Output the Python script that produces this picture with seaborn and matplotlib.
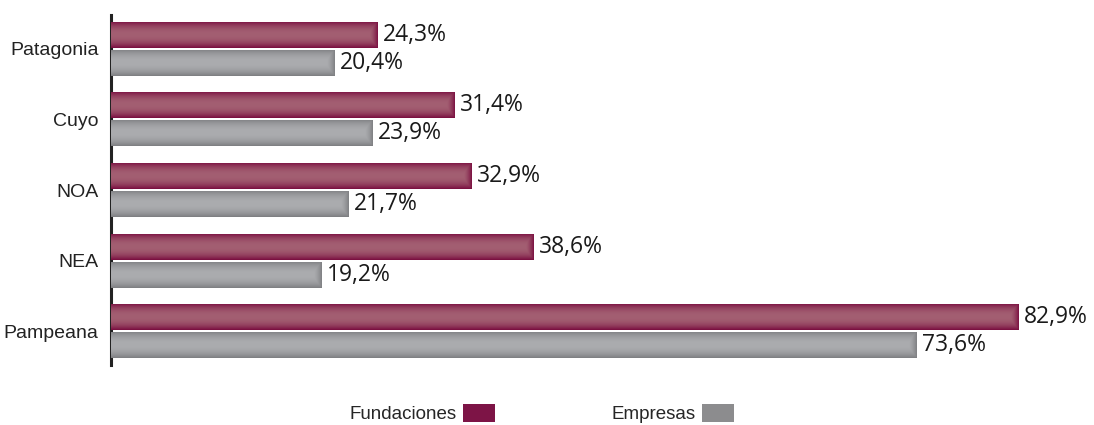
import numpy as np
import pandas as pd
import seaborn as sns
import matplotlib.pyplot as plt
from matplotlib.colors import to_rgb
from matplotlib.patches import Patch

regiones = ["Patagonia", "Cuyo", "NOA", "NEA", "Pampeana"]
fundaciones = [24.3, 31.4, 32.9, 38.6, 82.9]
empresas = [20.4, 23.9, 21.7, 19.2, 73.6]
series = ["Fundaciones", "Empresas"]

# colores: borde oscuro / centro claro
colores = {"Fundaciones": ("#7a0f40", "#a35f72"), "Empresas": ("#7e7f82", "#abacaf")}
legend_colors = {"Fundaciones": "#7d1446", "Empresas": "#8c8c8e"}

df = pd.DataFrame({
    "region": regiones * 2,
    "valor": fundaciones + empresas,
    "serie": [series[0]] * 5 + [series[1]] * 5,
})

sns.set_style("white")
plt.rcParams["font.family"] = ["Liberation Sans", "DejaVu Sans"]

fig = plt.figure(figsize=(10.94, 4.25), dpi=100)
px_per_unit = 10.95
ax_left, ax_right = 111, 1090
ax = fig.add_axes([ax_left / 1094, 60 / 425, (ax_right - ax_left) / 1094, 350 / 425])

sns.barplot(data=df, y="region", x="valor", hue="serie", order=regiones,
            hue_order=series, orient="h", width=0.794, gap=0.07,
            palette=[legend_colors[s] for s in series], linewidth=0,
            legend=False, ax=ax)

# gradiente sobre cada barra
for cont, s in zip(ax.containers, series):
    dark = np.array(to_rgb(colores[s][0]))
    light = np.array(to_rgb(colores[s][1]))
    for p in cont:
        x0, y0 = p.get_x(), p.get_y()
        w, h = p.get_width(), p.get_height()
        n_u = max(int(w * px_per_unit), 2)
        u = np.linspace(0, 1, n_u)
        v = np.linspace(0, 1, 40)
        dv = np.abs(2 * v - 1) ** 2.2
        dist_right = (1 - u) * w * px_per_unit
        du = np.clip(1 - dist_right / 8, 0, 1) ** 1.5
        d = np.maximum(dv[:, None], du[None, :] * 0.9)
        img = light[None, None, :] * (1 - d[..., None]) + dark[None, None, :] * d[..., None]
        im = ax.imshow(img, extent=[x0, x0 + w, y0 + h, y0], aspect="auto",
                       interpolation="bilinear", zorder=3)
        im.set_clip_path(p)

    labels = [f"{b.get_width():.1f}%".replace(".", ",") for b in cont]
    ax.bar_label(cont, labels=labels, padding=4, fontsize=16.5,
                 family="Open Sans", color="#1a1a1a", zorder=5)

ax.set_xlim(0, (ax_right - ax_left) / px_per_unit)
ax.set_ylim(4.48, -0.48)
ax.set_xlabel("")
ax.set_ylabel("")
ax.set_xticks([])
ax.tick_params(axis="y", length=0, pad=9, labelsize=14, labelcolor="#222222")
for sp in ["top", "right", "bottom"]:
    ax.spines[sp].set_visible(False)
ax.spines["left"].set_linewidth(2.2)
ax.spines["left"].set_color("#222222")

handles = [Patch(facecolor=legend_colors[s], edgecolor="none") for s in series]
fig.legend(handles, series, loc="lower center", bbox_to_anchor=(0.495, -0.035),
           ncol=2, frameon=False, markerfirst=False, fontsize=13.5,
           handlelength=1.7, handleheight=1.1, handletextpad=0.35,
           columnspacing=6.2)

fig.savefig("out.png", dpi=100)
